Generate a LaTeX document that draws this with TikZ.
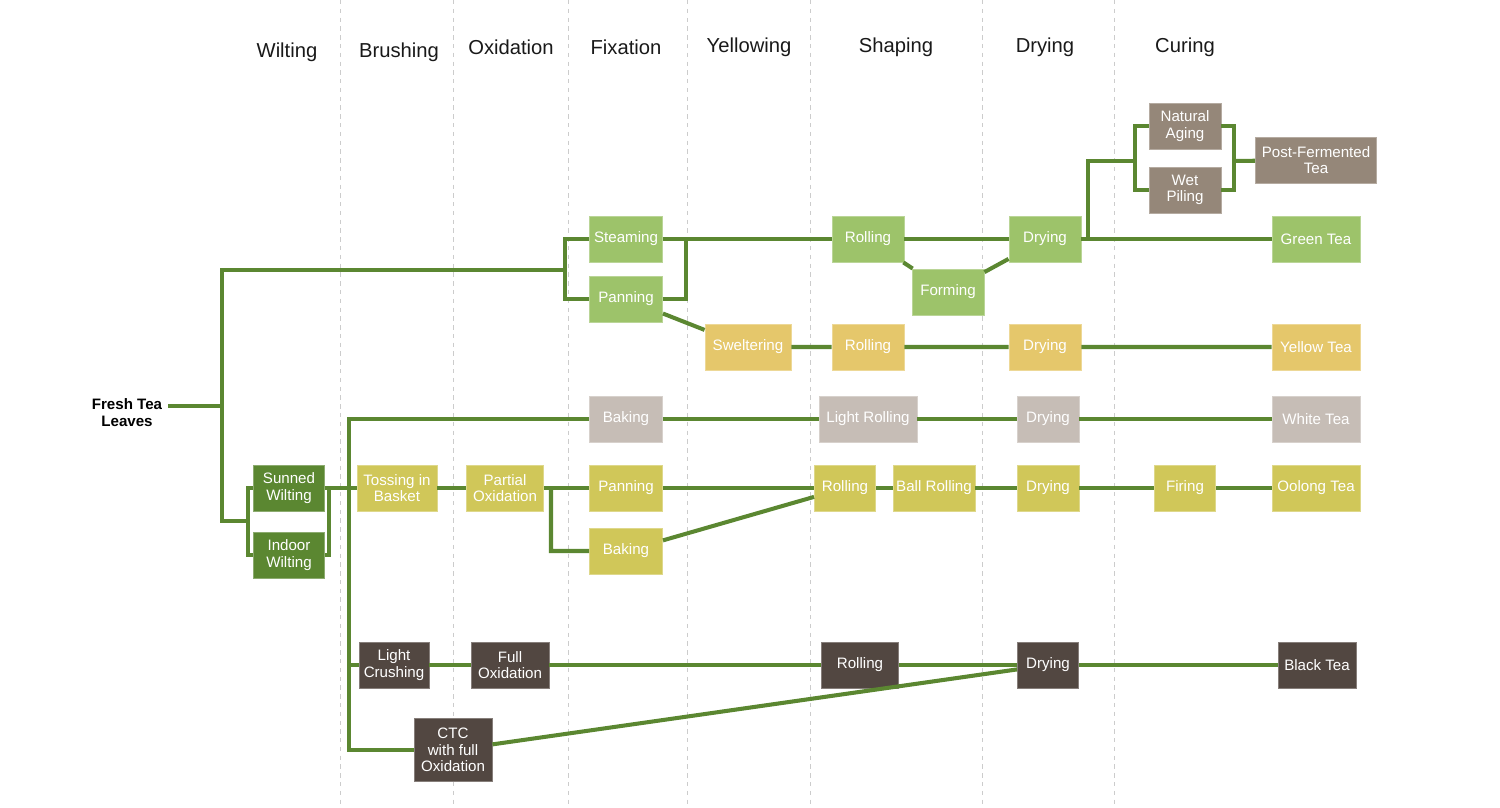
\documentclass[tikz,border=0pt]{standalone}
\usepackage{fontspec}
\setmainfont{Liberation Sans}
\definecolor{lnGreen}{HTML}{5B8731}
\definecolor{wiltC}{HTML}{5B8731}
\definecolor{greenC}{HTML}{9DC36A}
\definecolor{yellowC}{HTML}{E5C76B}
\definecolor{whiteC}{HTML}{C6BDB6}
\definecolor{oolongC}{HTML}{D0C759}
\definecolor{postC}{HTML}{958779}
\definecolor{blackC}{HTML}{524741}
\begin{document}
\begin{tikzpicture}[x=0.2mm,y=-0.2mm,
    link/.style={draw=lnGreen,line width=2.3pt},
    box/.style={rectangle,fill=#1,draw=#1!70!white,line width=0.5pt,text=white,
      inner sep=0pt,minimum height=9.2mm,align=center,font=\fontsize{8.6}{9.4}\selectfont},
    wd/.style={minimum width=#1*0.2mm},
    head/.style={font=\fontsize{11.5}{13}\selectfont,text=black!90}]
  \useasboundingbox (0,0) rectangle (1500,808);
  \foreach \x in {340,453,568,687,810,982,1114}
    \draw[black!20,dash pattern=on 2.5pt off 2.5pt,line width=0.5pt] (\x,0) -- (\x,808);
  \foreach \t/\x/\y in {Wilting/287/52,Brushing/399/52,Oxidation/511/47,Fixation/626/47,
      Yellowing/749/47,Shaping/896/47,Drying/1045/47,Curing/1185/47}
    \node[head] (h\t) at (\x,\y) {\t};

  \node[font=\bfseries\fontsize{8.6}{9.6}\selectfont,align=center] (fresh) at (127,413) {Fresh Tea\\Leaves};
  \node[box=wiltC,wd=71] (sunned) at (289,488) {Sunned\\Wilting};
  \node[box=wiltC,wd=71] (indoor) at (289,555) {Indoor\\Wilting};
  \node[box=oolongC,wd=80] (tossing) at (397,488) {Tossing in\\Basket};
  \node[box=oolongC,wd=77] (partial) at (505,488) {Partial\\Oxidation};

  \node[box=greenC,wd=73] (steam) at (626,239) {Steaming};
  \node[box=greenC,wd=73] (panG) at (626,299) {Panning};
  \node[box=greenC,wd=72] (rollG) at (868,239) {Rolling};
  \node[box=greenC,wd=72] (form) at (948,292) {Forming};
  \node[box=greenC,wd=72] (dryG) at (1045,239) {Drying};
  \node[box=postC,wd=72] (aging) at (1185,126) {Natural\\Aging};
  \node[box=postC,wd=72] (piling) at (1185,190) {Wet\\Piling};
  \node[box=postC,wd=121] (postf) at (1316,160) {Post-Fermented\\Tea};
  \node[box=greenC,wd=88] (green) at (1316,239) {Green Tea};

  \node[box=yellowC,wd=86] (swelter) at (748,347) {Sweltering};
  \node[box=yellowC,wd=72] (rollY) at (868,347) {Rolling};
  \node[box=yellowC,wd=72] (dryY) at (1045,347) {Drying};
  \node[box=yellowC,wd=88] (yellow) at (1316,347) {Yellow Tea};

  \node[box=whiteC,wd=73] (bakeW) at (626,419) {Baking};
  \node[box=whiteC,wd=98] (lrollW) at (868,419) {Light Rolling};
  \node[box=whiteC,wd=62] (dryW) at (1048,419) {Drying};
  \node[box=whiteC,wd=88] (white) at (1316,419) {White Tea};

  \node[box=oolongC,wd=73] (panO) at (626,488) {Panning};
  \node[box=oolongC,wd=73] (bakeO) at (626,551) {Baking};
  \node[box=oolongC,wd=61] (rollO) at (845,488) {Rolling};
  \node[box=oolongC,wd=82] (ball) at (934,488) {Ball Rolling};
  \node[box=oolongC,wd=62] (dryO) at (1048,488) {Drying};
  \node[box=oolongC,wd=61] (fire) at (1185,488) {Firing};
  \node[box=oolongC,wd=88] (oolong) at (1316,488) {Oolong Tea};

  \node[box=blackC,wd=70] (crush) at (394,665) {Light\\Crushing};
  \node[box=blackC,wd=78] (fullox) at (510,665) {Full\\Oxidation};
  \node[box=blackC,wd=77] (rollB) at (860,665) {Rolling};
  \node[box=blackC,wd=61] (dryB) at (1048,665) {Drying};
  \node[box=blackC,wd=78] (black) at (1317,665) {Black Tea};
  \node[box=blackC,wd=78,minimum height=12.6mm] (ctc) at (453,750) {CTC\\with full\\Oxidation};

  \coordinate (root) at (222,406);
  \coordinate (fixL) at (565,270);
  \coordinate (witL) at (248,521);
  \coordinate (witR) at (329,488);
  \coordinate (brush) at (349,488);
  \coordinate (oolS) at (551,488);
  \coordinate (fixR) at (686,239);
  \coordinate (curA) at (1088,239);
  \coordinate (curL) at (1135,161);
  \coordinate (curR) at (1234,161);

  \draw[link] (fresh.east |- root) -- (root);
  \draw[link] (fixL) -| (witL -| root) -- (witL);
  \draw[link] (steam) -| (fixL) |- (panG);
  \draw[link] (sunned) -| (witL) |- (indoor);
  \draw[link] (sunned) -| (witR) |- (indoor);
  \draw[link] (witR) -- (tossing) -- (partial) -- (panO) -- (rollO) -- (ball) -- (dryO) -- (fire) -- (oolong);
  \draw[link] (bakeW) -| (brush) |- (ctc);
  \draw[link] (brush |- crush) -- (crush) -- (fullox) -- (rollB) -- (dryB) -- (black);
  \draw[link] (bakeW) -- (lrollW) -- (dryW) -- (white);
  \draw[link] (oolS) |- (bakeO) -- (rollO);
  \draw[link] (steam) -- (rollG) -- (dryG) -- (green);
  \draw[link] (panG) -| (fixR);
  \draw[link] (panG) -- (swelter) -- (rollY) -- (dryY) -- (yellow);
  \draw[link] (rollG) -- (form) -- (dryG);
  \draw[link] (curA) |- (curL);
  \draw[link] (aging) -| (curL) |- (piling);
  \draw[link] (aging) -| (curR) |- (piling);
  \draw[link] (curR) -- (postf);
  \draw[link] (ctc) -- (dryB);
\end{tikzpicture}
\end{document}
